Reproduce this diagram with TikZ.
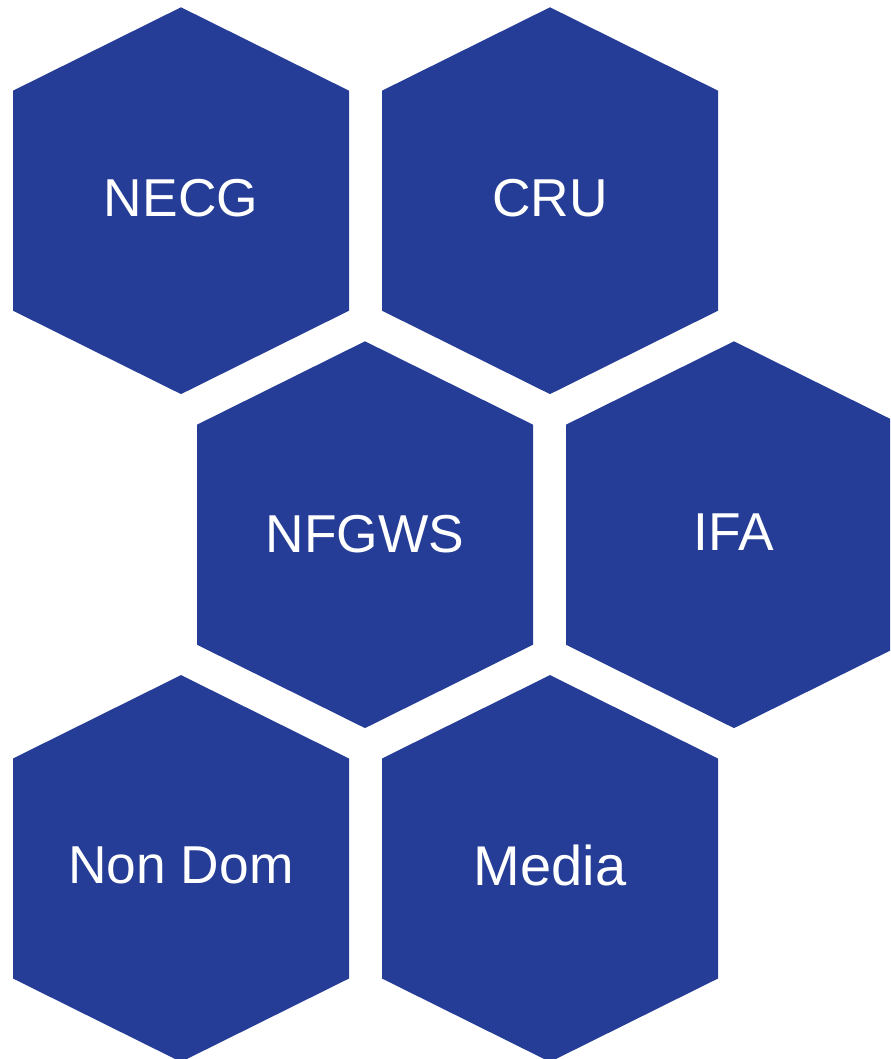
\documentclass[tikz,border=0pt]{standalone}
\usepackage{fontspec}
\setmainfont{Liberation Sans}
\definecolor{hexblue}{RGB}{37,61,150}
\newcommand{\hexa}[5][]{\fill[hexcell] (#3,#4) +(0,-193.4) -- +(168,-110) -- +(168,110) -- +(0,193.4) -- +(-168,110) -- +(-168,-110) -- cycle;
\node[hexname,#1](#2) at (#3,#4-3){#5};}

\begin{document}
\begin{tikzpicture}[x=0.75pt,y=-0.75pt,
  hexcell/.style={fill=hexblue},
  hexname/.style={text=white,inner sep=0pt,font=\fontsize{40}{48}\selectfont}]

\useasboundingbox (0,0) rectangle (890,1059);
\clip (0,0) rectangle (890,1059);

\hexa{necg}{181}{200.7}{NECG}
\hexa{cru}{550}{200.7}{CRU}
\hexa[yshift=-1.7pt]{nfgws}{365}{534.7}{NFGWS}
\hexa{ifa}{734}{534.7}{IFA}
\hexa{nondom}{181}{868.5}{Non Dom}
\hexa[font=\fontsize{42}{50}\selectfont]{media}{550}{868.5}{Media}

\end{tikzpicture}
\end{document}
